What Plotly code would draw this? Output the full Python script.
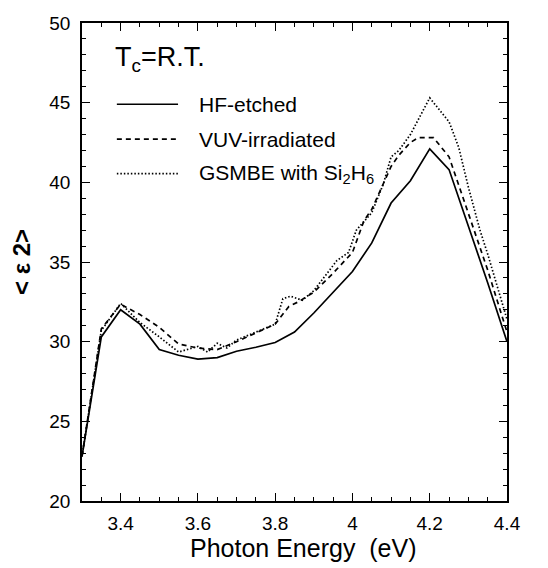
import plotly.graph_objects as go

# ---- data ----
hf_energy = [3.30, 3.35, 3.40, 3.45, 3.50, 3.55, 3.60, 3.65, 3.70, 3.75, 3.80, 3.85,
             3.90, 3.95, 4.00, 4.05, 4.10, 4.15, 4.20, 4.25, 4.30, 4.35, 4.40]
hf_eps2 = [22.8, 30.3, 32.0, 31.1, 29.5, 29.15, 28.9, 29.0, 29.4, 29.65, 29.95, 30.6,
           31.8, 33.1, 34.4, 36.2, 38.7, 40.1, 42.1, 40.8, 37.3, 33.7, 30.0]

vuv_energy = [3.30, 3.35, 3.40, 3.45, 3.50, 3.55, 3.60, 3.65, 3.70, 3.75, 3.80, 3.835,
              3.86, 3.90, 3.95, 4.00, 4.03, 4.05, 4.10, 4.12, 4.15, 4.17, 4.21, 4.25,
              4.30, 4.35, 4.40]
vuv_eps2 = [22.8, 30.8, 32.35, 31.7, 30.9, 29.85, 29.6, 29.5, 30.0, 30.55, 31.1, 32.2,
            32.5, 33.1, 34.3, 35.6, 37.6, 38.3, 41.0, 41.7, 42.5, 42.8, 42.8, 41.6,
            38.0, 34.5, 30.6]

gs_energy = [3.30, 3.35, 3.40, 3.45, 3.50, 3.55, 3.60, 3.625, 3.65, 3.675, 3.70, 3.75,
             3.80, 3.82, 3.84, 3.87, 3.90, 3.96, 3.99, 4.01, 4.05, 4.08, 4.10, 4.12,
             4.15, 4.20, 4.25, 4.275, 4.30, 4.33, 4.35, 4.40]
gs_eps2 = [22.8, 30.7, 32.4, 31.2, 30.3, 29.35, 29.7, 29.35, 29.9, 29.6, 30.1, 30.6,
           31.1, 32.7, 32.85, 32.6, 33.2, 35.1, 35.6, 37.0, 38.1, 39.9, 41.6, 42.0,
           43.0, 45.3, 43.8, 42.2, 39.7, 37.0, 35.5, 31.4]

series_names = ["HF-etched", "VUV-irradiated", "GSMBE with Si<sub>2</sub>H<sub>6</sub>"]
series_dash = ["solid", "5px,4px", "1.5px,2px"]

FONT = "Liberation Sans, Arial, Helvetica, sans-serif"

fig = go.Figure()
for xs, ys, name, dash in zip([hf_energy, vuv_energy, gs_energy],
                              [hf_eps2, vuv_eps2, gs_eps2],
                              series_names, series_dash):
    fig.add_trace(go.Scatter(x=xs, y=ys, mode="lines", name=name,
                             line=dict(color="black", width=1.7, dash=dash),
                             showlegend=False))

# hand-drawn legend (sample lines + labels) in paper coordinates
legend_rows = [0.830, 0.757, 0.685]
for yy, name, dash in zip(legend_rows, series_names, series_dash):
    fig.add_shape(type="line", xref="paper", yref="paper",
                  x0=0.082, x1=0.226, y0=yy, y1=yy,
                  line=dict(color="black", width=1.7, dash=dash))
    fig.add_annotation(xref="paper", yref="paper", x=0.270, y=yy,
                       xanchor="left", yanchor="middle", showarrow=False,
                       text=name, font=dict(family=FONT, size=21, color="black"))

fig.add_annotation(xref="paper", yref="paper", x=0.073, y=0.924,
                   xanchor="left", yanchor="middle", showarrow=False,
                   text="T<sub>c</sub>=R.T.",
                   font=dict(family=FONT, size=27, color="black"))

# x-axis title (slightly right of the plot centre, as in the reference)
fig.add_annotation(xref="paper", yref="paper", x=0.52, y=-0.098,
                   xanchor="center", yanchor="middle", showarrow=False,
                   text="Photon Energy  (eV)",
                   font=dict(family=FONT, size=25, color="black"))

axis_common = dict(showline=True, linecolor="black", linewidth=1.5, mirror="ticks",
                   ticks="inside", ticklen=8, tickwidth=1.2, tickcolor="black",
                   showgrid=False, zeroline=False,
                   tickfont=dict(family=FONT, size=19, color="black"))

fig.update_xaxes(range=[3.3, 4.4], tick0=3.4, dtick=0.2,
                 minor=dict(dtick=0.05, ticks="inside", ticklen=4, tickwidth=1, tickcolor="black"),
                 ticklabelstandoff=4,
                 **axis_common)
fig.update_yaxes(range=[20, 50], tick0=20, dtick=5,
                 minor=dict(dtick=1, ticks="inside", ticklen=4, tickwidth=1, tickcolor="black"),
                 title=dict(text="<b>&lt; ε 2&gt;</b>", standoff=12,
                            font=dict(family=FONT, size=24, color="black")),
                 ticklabelstandoff=6,
                 **axis_common)

fig.update_layout(width=548, height=568,
                  margin=dict(l=82, r=41, t=23, b=67),
                  plot_bgcolor="white", paper_bgcolor="white",
                  font=dict(family=FONT, color="black"))

fig.write_html("out.html")
